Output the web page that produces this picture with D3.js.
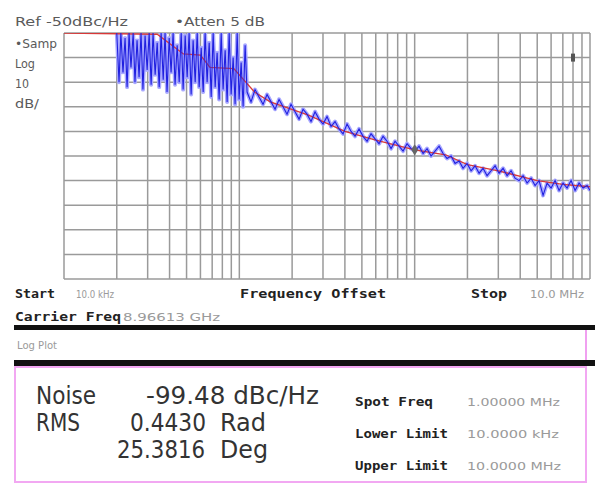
<!DOCTYPE html>
<html>
<head>
<meta charset="utf-8">
<script src="https://cdn.jsdelivr.net/npm/d3@7"></script>
<style>
body { margin: 0; background: #fff; }
svg { display: block; }
</style>
</head>
<body>
<svg></svg>
<script>
// spiky close-in part of the trace (kHz, dBc/Hz)
var spikeFreq = [20.0,20.6,21.1,21.7,22.3,22.9,23.5,24.1,24.8,25.4,26.1,26.8,27.5,28.2,29.0,29.8,30.6,31.4,32.2,33.1,
  34.0,34.9,35.8,36.8,37.7,38.7,39.8,40.8,41.9,43.0,44.2,45.4,46.6,47.8,49.1,50.4,51.7,53.1,54.5,56.0,
  57.5,59.0,60.6,62.2,63.8,65.5,67.3,69.1,70.9,72.8,74.7,76.7,78.8,80.8,83.0,85.2,87.5,89.8,92.2,94.6,
  97.2,99.7,102.4,105.1,107.9];
var spikeDb = [-50,-70,-50,-66,-52,-72,-50,-64,-50,-70,-53,-68,-50,-73,-51,-65,-50,-71,-50,-67,
  -54,-72,-50,-69,-50,-74,-52,-66,-50,-71,-55,-70,-50,-73,-51,-68,-50,-75,-53,-70,
  -50,-72,-56,-74,-50,-70,-54,-76,-50,-72,-58,-77,-50,-73,-57,-78,-50,-75,-60,-79,
  -50,-77,-62,-80,-55];

// noisy roll-off part of the trace
var traceFreq = [110.7,116.6,122.9,129.5,136.5,143.9,151.6,159.9,168.5,177.6,187.1,197.2,207.8,219.1,230.9,243.3,256.4,270.3,284.9,300.2,
  316.4,333.5,351.5,370.4,390.4,411.5,433.7,457.1,481.7,507.7,535.2,564.0,594.4,626.5,660.3,695.9,733.5,773.0,814.7,858.6,
  904.9,953.9,1005,1059,1117,1177,1240,1307,1378,1452,1530,1613,1700,1792,1888,1990,2098,2211,2331,2456,
  2588,2728,2875,3030,3194,3366,3547,3738,3940,4153,4377,4613,4862,5124,5400,5692,5999,6322,6663,7022,
  7401,7800,8222,8664,9131,9627,10000];
var traceDb = [-74,-78,-73,-76,-79,-75,-78,-81,-77,-80,-83,-79,-82,-85,-81,-83,-86,-82,-85,-87,
  -84,-88,-86,-89,-91,-87,-90,-92,-89,-92,-94,-91,-93,-95,-92,-94,-97,-94,-96,-98,
  -95,-97,-98,-96,-99,-97,-100,-98,-96,-99,-101,-100,-103,-102,-105,-103,-106,-104,-107,-105,
  -108,-106,-104,-107,-105,-108,-106,-109,-110,-108,-111,-109,-112,-110,-116,-111,-113,-110,-114,-111,
  -113,-110,-114,-111,-113,-112,-114];

// smoothed trace (red)
var smoothFreq = [10, 34, 48, 60, 68, 93, 122, 150, 250, 400, 600, 1000, 1500, 2000, 3000, 5000, 7000, 10000];
var smoothDb = [-50, -50.5, -58.5, -59, -64, -64.5, -74, -78, -83.5, -90, -93.5, -97.5, -99.5, -103.5, -106, -110, -111.5, -112.5];

var dbGrid = [-50,-60,-70,-80,-90,-100,-110,-120,-130,-140,-150];
var sideLabels = ['\u2022Samp', 'Log', '10', 'dB/'];
var sideWidths = [42, 20, 14, 24];

var markerFreq = 1000, markerDb = -97.5;
var flagFreq = 8000, flagDb = -60;

var readLeft = [['Noise', '-99.48 dBc/Hz', ''], ['RMS', '0.4430', 'Rad'], ['', '25.3816', 'Deg']];
var readRight = [['Spot Freq', '1.00000 MHz'], ['Lower Limit', '10.0000 kHz'], ['Upper Limit', '10.0000 MHz']];

var width = 595;
var height = 488;

var svg = d3.select('svg')
    .attr('width', width)
    .attr('height', height);

var x = d3.scaleLog().domain([10, 10000]).range([64, 590]);
var y = d3.scaleLinear().domain([-50, -150]).range([33, 279]);

var condensed = '"DejaVu Sans Condensed", "DejaVu Sans", sans-serif';
var mono = '"DejaVu Sans Mono", monospace';

svg.append('clipPath').attr('id', 'plot')
  .append('rect')
    .attr('x', x.range()[0]).attr('y', y(-50))
    .attr('width', x.range()[1] - x.range()[0])
    .attr('height', y(-150) - y(-50));

// grid
var grid = svg.append('g').attr('stroke', '#9a9a9a').attr('stroke-width', 1.5);
grid.selectAll('.v')
  .data(x.ticks())
  .enter().append('line')
    .attr('x1', d => x(d)).attr('x2', d => x(d))
    .attr('y1', y(-50)).attr('y2', y(-150));
grid.selectAll('.h')
  .data(dbGrid)
  .enter().append('line')
    .attr('x1', x(10)).attr('x2', x(10000))
    .attr('y1', d => y(d)).attr('y2', d => y(d));

var line = d3.line()
  .x(d => x(d[0]))
  .y(d => y(d[1]));

var spikes = spikeFreq.map((f, i) => [f, spikeDb[i]]);
var tail = traceFreq.map((f, i) => [f, traceDb[i]]);
var trace = spikes.concat(tail);
var smooth = smoothFreq.map((f, i) => [f, smoothDb[i]]);

var traces = svg.append('g').attr('clip-path', 'url(#plot)');
traces.append('path')
  .attr('d', line(trace))
  .attr('fill', 'none')
  .attr('stroke', '#a8a8ff')
  .attr('stroke-width', 4)
  .attr('stroke-linejoin', 'round');
traces.append('path')
  .attr('d', line(smooth))
  .attr('fill', 'none')
  .attr('stroke', '#d83838')
  .attr('stroke-width', 1.3);
traces.append('path')
  .attr('d', line(trace))
  .attr('fill', 'none')
  .attr('stroke', '#2020e0')
  .attr('stroke-width', 1.1);

// marker on the trace and the flag at upper right
svg.append('path')
  .attr('d', d3.symbol().type(d3.symbolDiamond).size(40)())
  .attr('transform', 'translate(' + x(markerFreq) + ',' + y(markerDb) + ')')
  .attr('fill', '#666');
svg.append('line')
  .attr('x1', x(markerFreq)).attr('x2', x(markerFreq))
  .attr('y1', y(markerDb) - 14).attr('y2', y(markerDb) - 5)
  .attr('stroke', '#888').attr('stroke-width', 1);
svg.append('rect')
  .attr('x', x(flagFreq) - 2).attr('y', y(flagDb) - 4)
  .attr('width', 4).attr('height', 8)
  .attr('fill', '#555');

// header and side labels
function plain(t, px, py, len) {
  return svg.append('text').attr('x', px).attr('y', py)
    .style('font-family', condensed).style('font-size', '13px').attr('fill', '#5a5a5a')
    .attr('textLength', len).attr('lengthAdjust', 'spacingAndGlyphs')
    .text(t);
}
plain('Ref -50dBc/Hz', 15, 26, 113);
plain('\u2022Atten 5 dB', 175, 26, 90);
sideLabels.forEach(function(t, i) {
  plain(t, 15, 48 + i * 20, sideWidths[i]);
});

// frequency row
function bold(t, px, py, len) {
  var s = svg.append('text').attr('x', px).attr('y', py)
    .style('font-family', mono).style('font-weight', 'bold').style('font-size', '12px')
    .attr('fill', '#222').text(t);
  if (len) s.attr('textLength', len).attr('lengthAdjust', 'spacingAndGlyphs');
  return s;
}
function light(t, px, py, len, size) {
  var s = svg.append('text').attr('x', px).attr('y', py)
    .style('font-family', condensed).style('font-size', (size || 10) + 'px')
    .attr('fill', '#9a9a9a').text(t);
  if (len) s.attr('textLength', len).attr('lengthAdjust', 'spacingAndGlyphs');
  return s;
}
bold('Start', 15, 298, 40);
light('10.0 kHz', 76, 298, 38);
bold('Frequency Offset', 240, 298, 146);
bold('Stop', 471, 298, 36);
light('10.0 MHz', 530, 298, 54);
bold('Carrier Freq', 15, 321, 106);
light('8.96613 GHz', 123, 321, 97);

// status bars
svg.append('rect').attr('x', 14).attr('y', 325).attr('width', 581).attr('height', 5).attr('fill', '#111');
svg.append('rect').attr('x', 585).attr('y', 330).attr('width', 2).attr('height', 30).attr('fill', '#f0a0f0');
light('Log Plot', 17, 349, 40, 11);
svg.append('rect').attr('x', 14).attr('y', 360).attr('width', 581).attr('height', 6).attr('fill', '#111');
svg.append('rect').attr('x', 15).attr('y', 367).attr('width', 571).attr('height', 115)
  .attr('fill', '#fff').attr('stroke', '#f2a8f2').attr('stroke-width', 2);

// readout
var big = svg.append('g')
  .style('font-family', condensed).style('font-size', '25px').attr('fill', '#333');
function bigText(t, px, py, len) {
  return big.append('text').attr('x', px).attr('y', py)
    .attr('textLength', len).attr('lengthAdjust', 'spacingAndGlyphs').text(t);
}
bigText(readLeft[0][0], 36, 404, 60);
bigText(readLeft[0][1], 146, 404, 173);
bigText(readLeft[1][0], 36, 431, 44);
bigText(readLeft[1][1], 130, 431, 76);
bigText(readLeft[1][2], 220, 431, 46);
bigText(readLeft[2][1], 117, 458, 88);
bigText(readLeft[2][2], 220, 458, 48);

var rightLen = [78, 93, 93];
var valueLen = [93, 92, 94];
readRight.forEach(function(r, i) {
  var yy = 406 + i * 32;
  bold(r[0], 355, yy, rightLen[i]);
  light(r[1], 467, yy, valueLen[i], 11);
});
</script>
</body>
</html>
